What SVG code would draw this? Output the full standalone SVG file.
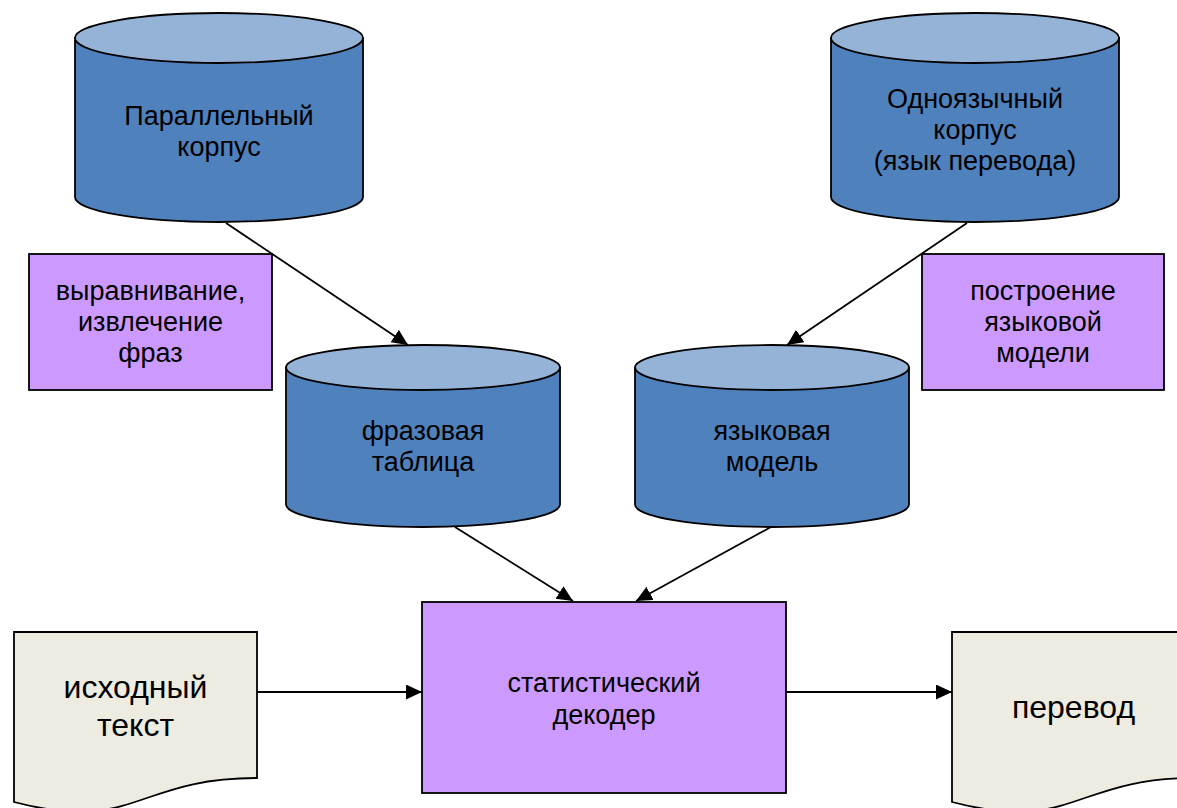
<svg xmlns="http://www.w3.org/2000/svg" width="1177" height="808" viewBox="0 0 1177 808">
<style>
.body{fill:#4F81BD;stroke:#000;stroke-width:1.8}
.top{fill:#95B3D7;stroke:#000;stroke-width:1.8}
.proc{fill:#CC99FF;stroke:#000;stroke-width:1.8}
.doc{fill:#EEECE1;stroke:#000;stroke-width:1.8}
.t{font-family:"Liberation Sans",Arial,sans-serif;font-size:27px;fill:#000;text-anchor:middle}
.tl{font-family:"Liberation Sans",Arial,sans-serif;font-size:32px;fill:#000;text-anchor:middle}
.c{stroke:#000;stroke-width:1.8;fill:none;marker-end:url(#ah)}
</style>
<defs>
<marker id="ah" markerUnits="userSpaceOnUse" markerWidth="17" markerHeight="16" refX="16" refY="7.5" orient="auto">
<path d="M0,0 L16,7.5 L0,15 Z" fill="#000"/>
</marker>
</defs>
<rect width="1177" height="808" fill="#fff"/>
<g id="connectors">
<line class="c" x1="226" y1="223" x2="408" y2="345"/>
<line class="c" x1="967" y1="223" x2="787" y2="345"/>
<line class="c" x1="455" y1="527" x2="573" y2="601"/>
<line class="c" x1="771" y1="527" x2="636" y2="601"/>
<line class="c" x1="257" y1="692" x2="422" y2="692"/>
<line class="c" x1="786" y1="692" x2="952" y2="692"/>
</g>
<g id="parallel-corpus">
<path class="body" d="M75,38 V197 A144,25 0 0 0 363,197 V38 Z"/>
<ellipse class="top" cx="219" cy="38" rx="144" ry="25"/>
<text class="t" x="219" y="125">Параллельный</text>
<text class="t" x="219" y="156">корпус</text>
</g>
<g id="mono-corpus">
<path class="body" d="M831,38 V197 A144,25 0 0 0 1119,197 V38 Z"/>
<ellipse class="top" cx="975" cy="38" rx="144" ry="25"/>
<text class="t" x="975" y="108">Одноязычный</text>
<text class="t" x="975" y="139">корпус</text>
<text class="t" x="975" y="170">(язык перевода)</text>
</g>
<g id="align-box">
<rect class="proc" x="29" y="254" width="243" height="136"/>
<text class="t" x="150.5" y="300">выравнивание,</text>
<text class="t" x="150.5" y="331">извлечение</text>
<text class="t" x="150.5" y="362">фраз</text>
</g>
<g id="lm-build-box">
<rect class="proc" x="922" y="254" width="242" height="136"/>
<text class="t" x="1043" y="300">построение</text>
<text class="t" x="1043" y="331">языковой</text>
<text class="t" x="1043" y="362">модели</text>
</g>
<g id="phrase-table">
<path class="body" d="M286,367.5 V504.5 A137,22.5 0 0 0 560,504.5 V367.5 Z"/>
<ellipse class="top" cx="423" cy="367.5" rx="137" ry="22.5"/>
<text class="t" x="423" y="440">фразовая</text>
<text class="t" x="423" y="471">таблица</text>
</g>
<g id="language-model">
<path class="body" d="M635,367.5 V504.5 A137,22.5 0 0 0 909,504.5 V367.5 Z"/>
<ellipse class="top" cx="772" cy="367.5" rx="137" ry="22.5"/>
<text class="t" x="772" y="440">языковая</text>
<text class="t" x="772" y="471">модель</text>
</g>
<g id="decoder">
<rect class="proc" x="422" y="602" width="364" height="191"/>
<text class="t" x="604" y="692">статистический</text>
<text class="t" x="604" y="724">декодер</text>
</g>
<g id="source-text">
<path class="doc" d="M14,632 H257 V778 C135.5,778 135.5,833.6 14,802 Z"/>
<text class="tl" x="135.5" y="698">исходный</text>
<text class="tl" x="135.5" y="736">текст</text>
</g>
<g id="translation">
<path class="doc" d="M952,632 H1195 V778 C1073.5,778 1073.5,833.6 952,802 Z"/>
<text class="tl" x="1073.5" y="718">перевод</text>
</g>
</svg>
